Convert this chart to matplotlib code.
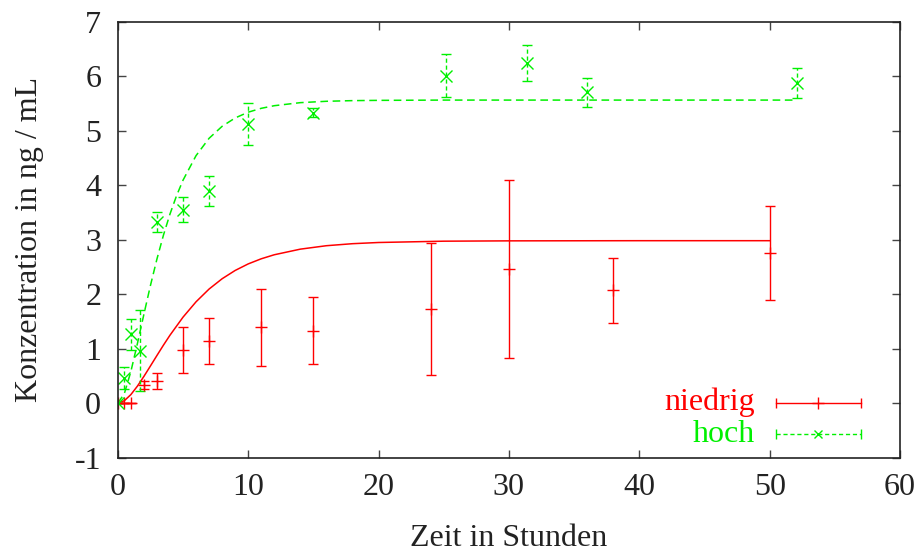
import matplotlib
matplotlib.use('Agg')
import matplotlib.pyplot as plt

# ── Messwerte ──────────────────────────────────────────────────────────────
# niedrige Dosis
t_low   = [0, 0.5, 1, 2, 3, 5, 7, 11, 15, 24, 30, 38, 50]
c_low   = [0, 0, 0, 0.33, 0.40, 0.98, 1.14, 1.39, 1.33, 1.72, 2.46, 2.07, 2.75]
err_low = [0, 0, 0, 0.08, 0.15, 0.42, 0.43, 0.71, 0.62, 1.21, 1.63, 0.60, 0.86]

# hohe Dosis
t_high   = [0, 0.5, 1, 1.7, 3, 5, 7, 10, 15, 25.2, 31.4, 36, 52.1]
c_high   = [0, 0.46, 1.26, 0.96, 3.32, 3.55, 3.89, 5.12, 5.33, 6.01, 6.24, 5.70, 5.87]
err_high = [0, 0.21, 0.29, 0.74, 0.18, 0.23, 0.27, 0.39, 0.08, 0.39, 0.33, 0.27, 0.27]

fit_t_low = [0, 0.5, 1, 1.5, 2, 2.5, 3, 3.5, 4, 5, 6, 7, 8, 9, 10, 11, 12,
             14, 16, 18, 20, 25, 30, 40, 50]
fit_c_low = [0, 0.044, 0.156, 0.311, 0.490, 0.681, 0.874, 1.064, 1.246,
             1.577, 1.859, 2.093, 2.282, 2.434, 2.554, 2.648, 2.722, 2.825,
             2.888, 2.925, 2.947, 2.971, 2.977, 2.98, 2.98]

fit_t_high = [0, 0.5, 1, 1.5, 2, 2.5, 3, 3.5, 4, 4.5, 5, 6, 7, 8, 9, 10, 11,
              12, 14, 16, 18, 20, 25, 30, 40, 52.1]
fit_c_high = [0, 0.175, 0.580, 1.091, 1.631, 2.157, 2.644, 3.083, 3.469,
              3.803, 4.090, 4.541, 4.859, 5.079, 5.232, 5.338, 5.409, 5.457,
              5.513, 5.538, 5.550, 5.555, 5.56, 5.56, 5.56, 5.56]

labels = ['niedrig', 'hoch']
RED    = '#ff0000'
GREEN  = '#00f000'

plt.rcParams['font.family'] = ['Liberation Serif', 'DejaVu Serif']
plt.rcParams['font.size'] = 23

fig, ax = plt.subplots(figsize=(9.17, 5.54), dpi=100)
fig.subplots_adjust(left=0.1285, right=0.9815, top=0.961, bottom=0.174)

# Fitkurven
ax.plot(fit_t_low, fit_c_low, color=RED, linewidth=1.1)
ax.plot(fit_t_high, fit_c_high, color=GREEN, linewidth=1.1,
        linestyle=(0, (5, 3)))

# Messpunkte mit Fehlerbalken
eb_low = ax.errorbar(t_low, c_low, yerr=err_low, fmt='+', color=RED,
                     markersize=8, markeredgewidth=1.0, elinewidth=1.0,
                     capsize=3.5, capthick=1.0)
eb_high = ax.errorbar(t_high, c_high, yerr=err_high, fmt='x', color=GREEN,
                      markersize=8, markeredgewidth=1.0, elinewidth=1.0,
                      capsize=3.5, capthick=1.0)
for col in eb_high[2]:
    col.set_linestyle((0, (3, 2)))

# Legende im gnuplot-Stil (Text rechtsbündig, Muster rechts daneben)
key_rows = [(0.126, RED, '-', '+', 8), (0.054, GREEN, (0, (3, 2)), 'x', 6)]
for label, (yk, color, ls, mk, ms) in zip(labels, key_rows):
    ax.text(0.815, yk, label, color=color, ha='right', va='center',
            transform=ax.transAxes)
    ax.plot([0.841, 0.950], [yk, yk], color=color, linestyle=ls,
            linewidth=1.0, transform=ax.transAxes, clip_on=False)
    ax.plot([0.841, 0.950], [yk, yk], linestyle='none', marker='|',
            markersize=7, color=color, markeredgewidth=1.0,
            transform=ax.transAxes, clip_on=False)
    ax.plot([0.8955], [yk], linestyle='none', marker=mk, markersize=ms,
            color=color, markeredgewidth=1.0, transform=ax.transAxes,
            clip_on=False)

ax.set_xlim(0, 60)
ax.set_ylim(-1, 7)
ax.set_xticks(range(0, 61, 10))
ax.set_yticks(range(-1, 8))
ax.set_yticklabels([str(v) for v in range(-1, 8)])
ax.tick_params(direction='in', length=6, width=1.0, color='#444444',
               top=True, right=True, labelcolor='#222222')
ax.tick_params(axis='x', pad=11)
ax.tick_params(axis='y', pad=12)
for sp in ax.spines.values():
    sp.set_linewidth(1.2)
    sp.set_color('#222222')

ax.set_xlabel('Zeit in Stunden', color='#222222', labelpad=16)
ax.set_ylabel('Konzentration in ng / mL', color='#222222', labelpad=22)

plt.savefig('out.png', dpi=100)
plt.close()
